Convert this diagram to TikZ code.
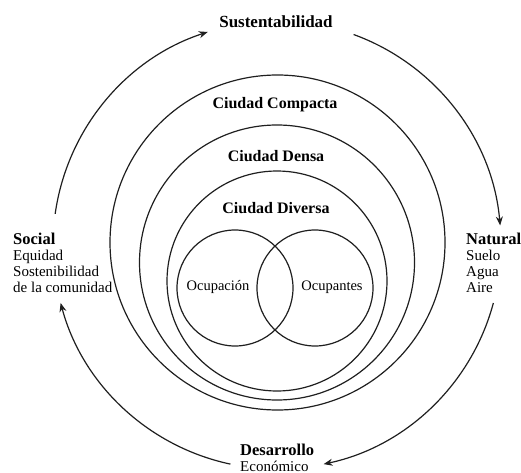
\documentclass[tikz,border=0pt]{standalone}
\usepackage{fontspec}
\setmainfont{Liberation Serif}
\usetikzlibrary{arrows.meta}
\begin{document}
\begin{tikzpicture}[x=1pt,y=1pt,
  ring/.style={draw=black!88,line width=1.2pt},
  cyc/.style={draw=black!88,line width=1.2pt,-{Stealth[length=9pt,width=7pt]}},
  ttl/.style={font=\fontsize{16}{18}\selectfont\bfseries,inner sep=0pt},
  txt/.style={font=\fontsize{14.5}{16}\selectfont,inner sep=0pt},
  blk/.style={align=left,inner sep=0pt,anchor=north west,
    font=\fontsize{15}{16}\selectfont}]
\useasboundingbox (0,0) rectangle (521,472);
% centres
\coordinate (A) at (277,227);
\coordinate (c1) at (277.5,229.5);
\coordinate (c2) at (277,209.5);
\coordinate (c3) at (277,191);
\coordinate (v1) at (235,184);
\coordinate (v2) at (315,184);
% rings
\draw[ring] (c1) circle[radius=167.5];
\draw[ring] (c2) circle[radius=137.5];
\draw[ring] (c3) circle[radius=110];
\draw[ring] (v1) circle[radius=58];
\draw[ring] (v2) circle[radius=58];
% labels
\node[ttl,font=\fontsize{17}{18}\selectfont\bfseries] (sust) at (276,450) {Sustentabilidad};
\node[ttl] (comp) at (275,367) {Ciudad Compacta};
\node[ttl] (dens) at (276,316) {Ciudad Densa};
\node[ttl] (divr) at (276,264) {Ciudad Diversa};
\node[txt] (ocn) at (218,185) {Ocupación};
\node[txt] (ocs) at (332,185) {Ocupantes};
\node[blk] (soc) at (13,239) {{\fontsize{16.5}{16}\selectfont\bfseries Social}\\
  Equidad\\ Sostenibilidad\\ de la comunidad};
\node[blk] (nat) at (466,239) {{\fontsize{16.5}{16}\selectfont\bfseries Natural}\\
  Suelo\\ Agua\\ Aire};
\node[blk] (des) at (240,28) {{\fontsize{16.5}{16}\selectfont\bfseries Desarrollo}\\
  Económico};
% cycle arrows
\path (A) ++(172:224) coordinate (s1);
\path (A) ++(70:224) coordinate (s2);
\path (A) ++(-15:224) coordinate (s3);
\path (A) ++(-102:224) coordinate (s4);
\draw[cyc] (s1) arc[start angle=172,end angle=108,radius=224];
\draw[cyc] (s2) arc[start angle=70,end angle=5,radius=224];
\draw[cyc] (s3) arc[start angle=-15,end angle=-78,radius=224];
\draw[cyc] (s4) arc[start angle=-102,end angle=-165,radius=224];
\end{tikzpicture}
\end{document}
